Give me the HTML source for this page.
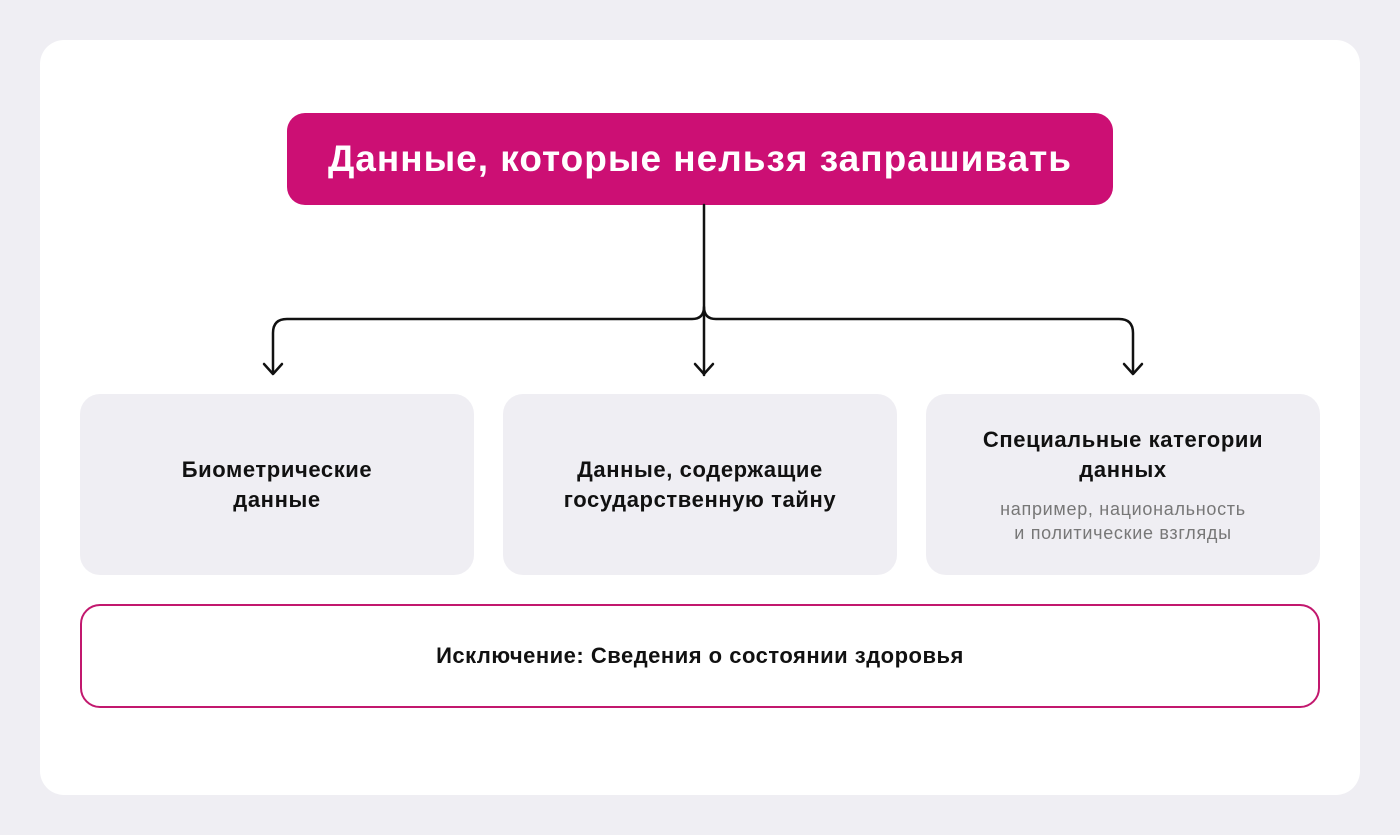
<!DOCTYPE html>
<html><head><meta charset="utf-8"><style>
*{margin:0;padding:0;box-sizing:border-box}
body{width:1400px;height:835px;background:#efeef3;font-family:"Liberation Sans",sans-serif;position:relative;overflow:hidden}
.card{position:absolute;left:40px;top:40px;width:1320px;height:755px;background:#fff;border-radius:24px}
.title{position:absolute;left:287px;top:113px;width:826px;height:92px;background:#cc0f74;border-radius:18px;color:#fff;font-size:37px;font-weight:bold;display:flex;align-items:center;justify-content:center;letter-spacing:1px}
.box{position:absolute;top:394px;width:394px;height:181px;background:#efeef3;border-radius:20px;display:flex;flex-direction:column;align-items:center;justify-content:center;text-align:center;font-size:22px;font-weight:bold;line-height:30px;color:#111;letter-spacing:0.6px}
.sub{font-size:18px;font-weight:normal;color:#777;line-height:24px;margin-top:12px;letter-spacing:0.7px}
.bottom{position:absolute;left:80px;top:604px;width:1240px;height:104px;border:2px solid #c2186e;border-radius:20px;display:flex;align-items:center;justify-content:center;font-size:22px;font-weight:bold;color:#111;letter-spacing:0.5px}
svg{position:absolute;left:0;top:0}
</style></head><body>
<div class="card"></div>
<div class="title">Данные, которые нельзя запрашивать</div>
<svg width="1400" height="835"><g fill="none" stroke="#111" stroke-width="2.5" stroke-linecap="round" stroke-linejoin="round">
<path d="M704 205 V375"/>
<path d="M273 373 V333 Q273 319 287 319 H692 Q704 319 704 307 Q704 319 716 319 H1119 Q1133 319 1133 333 V373"/>
<path d="M264 364 L273 374 L282 364"/>
<path d="M695 364 L704 374 L713 364"/>
<path d="M1124 364 L1133 374 L1142 364"/>
</g></svg>
<div class="box" style="left:80px">Биометрические<br>данные</div>
<div class="box" style="left:503px">Данные, содержащие<br>государственную тайну</div>
<div class="box" style="left:926px"><div>Специальные категории<br>данных</div><div class="sub">например, национальность<br>и политические взгляды</div></div>
<div class="bottom">Исключение: Сведения о состоянии здоровья</div>
</body></html>
